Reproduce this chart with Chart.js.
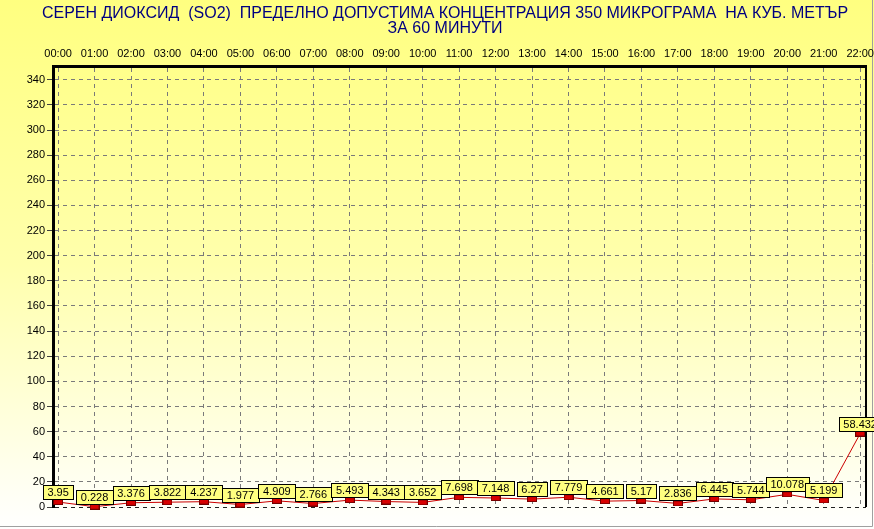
<!DOCTYPE html>
<html>
<head>
<meta charset="utf-8">
<script src="https://cdn.jsdelivr.net/npm/chart.js@4.4.1/dist/chart.umd.min.js"></script>
<style>
    html, body { margin: 0; padding: 0; background: #fff; }
    #chart { display: block; }
</style>
</head>
<body>
<canvas id="chart" width="874" height="529"></canvas>
<script>
const TITLE = [
    'СЕРЕН ДИОКСИД  (SO2)  ПРЕДЕЛНО ДОПУСТИМА КОНЦЕНТРАЦИЯ 350 МИКРОГРАМА  НА КУБ. МЕТЪР',
    'ЗА 60 МИНУТИ',
];
const HOURS = [
    '00:00', '01:00', '02:00', '03:00', '04:00', '05:00', '06:00', '07:00',
    '08:00', '09:00', '10:00', '11:00', '12:00', '13:00', '14:00', '15:00',
    '16:00', '17:00', '18:00', '19:00', '20:00', '21:00', '22:00',
];
const SO2 = [
    3.95, 0.228, 3.376, 3.822, 4.237, 1.977, 4.909, 2.766,
    5.493, 4.343, 3.652, 7.698, 7.148, 6.27, 7.779, 4.661,
    5.17, 2.836, 6.445, 5.744, 10.078, 5.199, 58.432,
];
const Y_TICKS = [0, 20, 40, 60, 80, 100, 120, 140, 160, 180, 200, 220, 240, 260, 280, 300, 320, 340];

const FONT = '"Liberation Sans", Arial, sans-serif';
const GRID = '#7a7a7a';

Chart.defaults.font.family = FONT;

// small red rectangle used as the point marker
const marker = document.createElement('canvas');
marker.width = 10;
marker.height = 6;
const mctx = marker.getContext('2d');
mctx.fillStyle = '#700000';
mctx.fillRect(0, 0, 10, 6);
mctx.fillStyle = '#d80000';
mctx.fillRect(1, 1, 8, 4);

const background = {
    id: 'background',
    beforeDraw(chart) {
        const { ctx, width, height } = chart;
        const g = ctx.createLinearGradient(0, 0, 0, height);
        g.addColorStop(0, '#ffff80');
        g.addColorStop(0.5, '#ffffac');
        g.addColorStop(0.93, '#fffff4');
        g.addColorStop(1, '#ffffff');
        ctx.save();
        ctx.fillStyle = g;
        ctx.fillRect(0, 0, width, height);
        ctx.strokeStyle = '#a0a0a0';
        ctx.lineWidth = 1;
        ctx.beginPath();
        ctx.moveTo(0, 526.5);
        ctx.lineTo(872.5, 526.5);
        ctx.lineTo(872.5, 0);
        ctx.stroke();
        ctx.fillStyle = '#000080';
        ctx.font = '16px ' + FONT;
        ctx.textAlign = 'center';
        ctx.textBaseline = 'middle';
        TITLE.forEach((line, i) => ctx.fillText(line, 445, 14 + i * 15));
        ctx.restore();
    },
};

const valueBoxes = {
    id: 'valueBoxes',
    afterDatasetsDraw(chart) {
        const { ctx, chartArea } = chart;
        const meta = chart.getDatasetMeta(0);
        ctx.save();
        // right edge of the plot frame
        ctx.strokeStyle = '#000';
        ctx.lineWidth = 2;
        ctx.beginPath();
        ctx.moveTo(chartArea.right, chartArea.top);
        ctx.lineTo(chartArea.right, chartArea.bottom);
        ctx.stroke();

        ctx.font = '11px ' + FONT;
        ctx.textAlign = 'center';
        ctx.textBaseline = 'middle';
        ctx.lineWidth = 1;
        meta.data.forEach((pt, i) => {
            const text = String(SO2[i]);
            const w = Math.round(ctx.measureText(text).width) + 9;
            const h = 14;
            const x = Math.round(pt.x - w / 2) + 0.5;
            const y = Math.round(pt.y - 3 - h) + 0.5;
            ctx.fillStyle = '#ffff80';
            ctx.fillRect(x, y, w, h);
            ctx.strokeStyle = '#000';
            ctx.strokeRect(x, y, w, h);
            ctx.fillStyle = '#000';
            ctx.fillText(text, pt.x, y + h / 2 + 0.5);
        });
        ctx.restore();
    },
};

new Chart(document.getElementById('chart'), {
    type: 'line',
    data: {
        datasets: [{
            data: SO2.map((v, i) => ({ x: i, y: v })),
            borderColor: '#cc0000',
            borderWidth: 1,
            tension: 0,
            pointStyle: marker,
            pointRadius: 4,
            clip: false,
        }],
    },
    options: {
        responsive: false,
        animation: false,
        layout: { padding: { top: 35, left: 0, right: 8, bottom: 22 } },
        plugins: {
            legend: { display: false },
            tooltip: { enabled: false },
            title: { display: false },
        },
        scales: {
            x: {
                type: 'linear',
                position: 'top',
                min: -0.14,
                max: 22.16,
                afterBuildTicks: (axis) => { axis.ticks = HOURS.map((h, i) => ({ value: i })); },
                afterFit: (axis) => {
                    axis.height = 31;
                    axis.paddingLeft = 0;
                    axis.paddingRight = 0;
                },
                ticks: {
                    autoSkip: false,
                    maxRotation: 0,
                    padding: 5,
                    color: '#000',
                    font: { size: 11 },
                    callback: (value) => HOURS[value],
                },
                grid: { color: GRID, drawTicks: false },
                border: { color: '#000', width: 3, dash: [4, 4] },
            },
            y: {
                min: 0,
                max: 351,
                afterBuildTicks: (axis) => { axis.ticks = Y_TICKS.map((v) => ({ value: v })); },
                afterFit: (axis) => {
                    axis.width = 53;
                    axis.paddingTop = 0;
                    axis.paddingBottom = 0;
                },
                ticks: { autoSkip: false, padding: 2, color: '#000', font: { size: 11 } },
                grid: {
                    color: (c) => (c.tick && c.tick.value === 0 ? '#202020' : GRID),
                    tickLength: 6,
                    tickColor: '#404040',
                },
                border: { color: '#000', width: 3, dash: [4, 4] },
            },
        },
    },
    plugins: [background, valueBoxes],
});
</script>
</body>
</html>
